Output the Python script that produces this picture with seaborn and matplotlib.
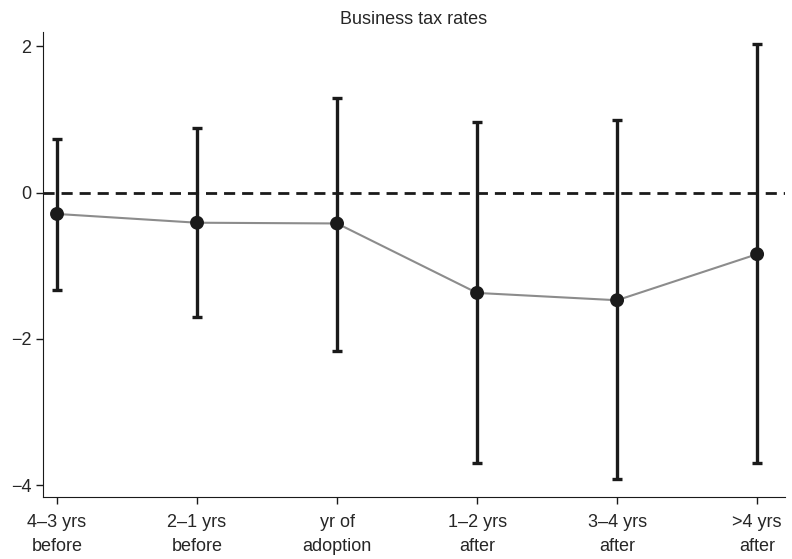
import numpy as np
import pandas as pd
import matplotlib
matplotlib.use("Agg")
import matplotlib.pyplot as plt
import seaborn as sns

sns.set_style("ticks")
plt.rcParams['font.family'] = ['Liberation Sans Narrow', 'Liberation Sans', 'DejaVu Sans']

# estimates and 95% bounds
periods = ["4\u20133 yrs\nbefore", "2\u20131 yrs\nbefore", "yr of\nadoption",
           "1\u20132 yrs\nafter", "3\u20134 yrs\nafter", ">4 yrs\nafter"]
coef = [-0.29, -0.41, -0.42, -1.37, -1.47, -0.84]
upper = [0.74, 0.88, 1.30, 0.97, 0.99, 2.03]
lower = [-1.33, -1.70, -2.16, -3.70, -3.92, -3.70]

df = pd.DataFrame({"pos": range(len(periods)), "coef": coef,
                   "upper": upper, "lower": lower})

fig = plt.figure(figsize=(7.92, 5.59), dpi=100)
ax = fig.add_axes([0.0543, 0.111, 0.937, 0.832])

ax.axhline(0, color="#1a1a1a", lw=2, ls=(0, (4, 2.5)), zorder=1)
ax.errorbar(df["pos"], df["coef"],
            yerr=[df["coef"] - df["lower"], df["upper"] - df["coef"]],
            fmt="none", ecolor="#1a1a1a", elinewidth=2.4, capsize=3.8,
            capthick=2.4, zorder=2)
sns.lineplot(data=df, x="pos", y="coef", color="#8c8c8c", lw=1.5, ax=ax, zorder=3)
sns.scatterplot(data=df, x="pos", y="coef", color="#1a1a1a", s=100,
                edgecolor="none", ax=ax, zorder=4)

ax.set_xlim(-0.1, 5.2)
ax.set_ylim(-4.16, 2.2)
ax.set_xticks(df["pos"])
ax.set_xticklabels(periods, fontsize=13, linespacing=1.55)
ax.set_yticks([-4, -2, 0, 2])
ax.set_yticklabels(["\u22124", "\u22122", "0", "2"], fontsize=13)
ax.set_xlabel("")
ax.set_ylabel("")
ax.tick_params(length=5, width=1, color="#1a1a1a")
ax.tick_params(axis="x", pad=7)
for s in ["left", "bottom"]:
    ax.spines[s].set_color("#1a1a1a")
sns.despine(ax=ax)
ax.set_title("Business tax rates", fontsize=13, pad=6)

fig.savefig("out.png", dpi=100)
